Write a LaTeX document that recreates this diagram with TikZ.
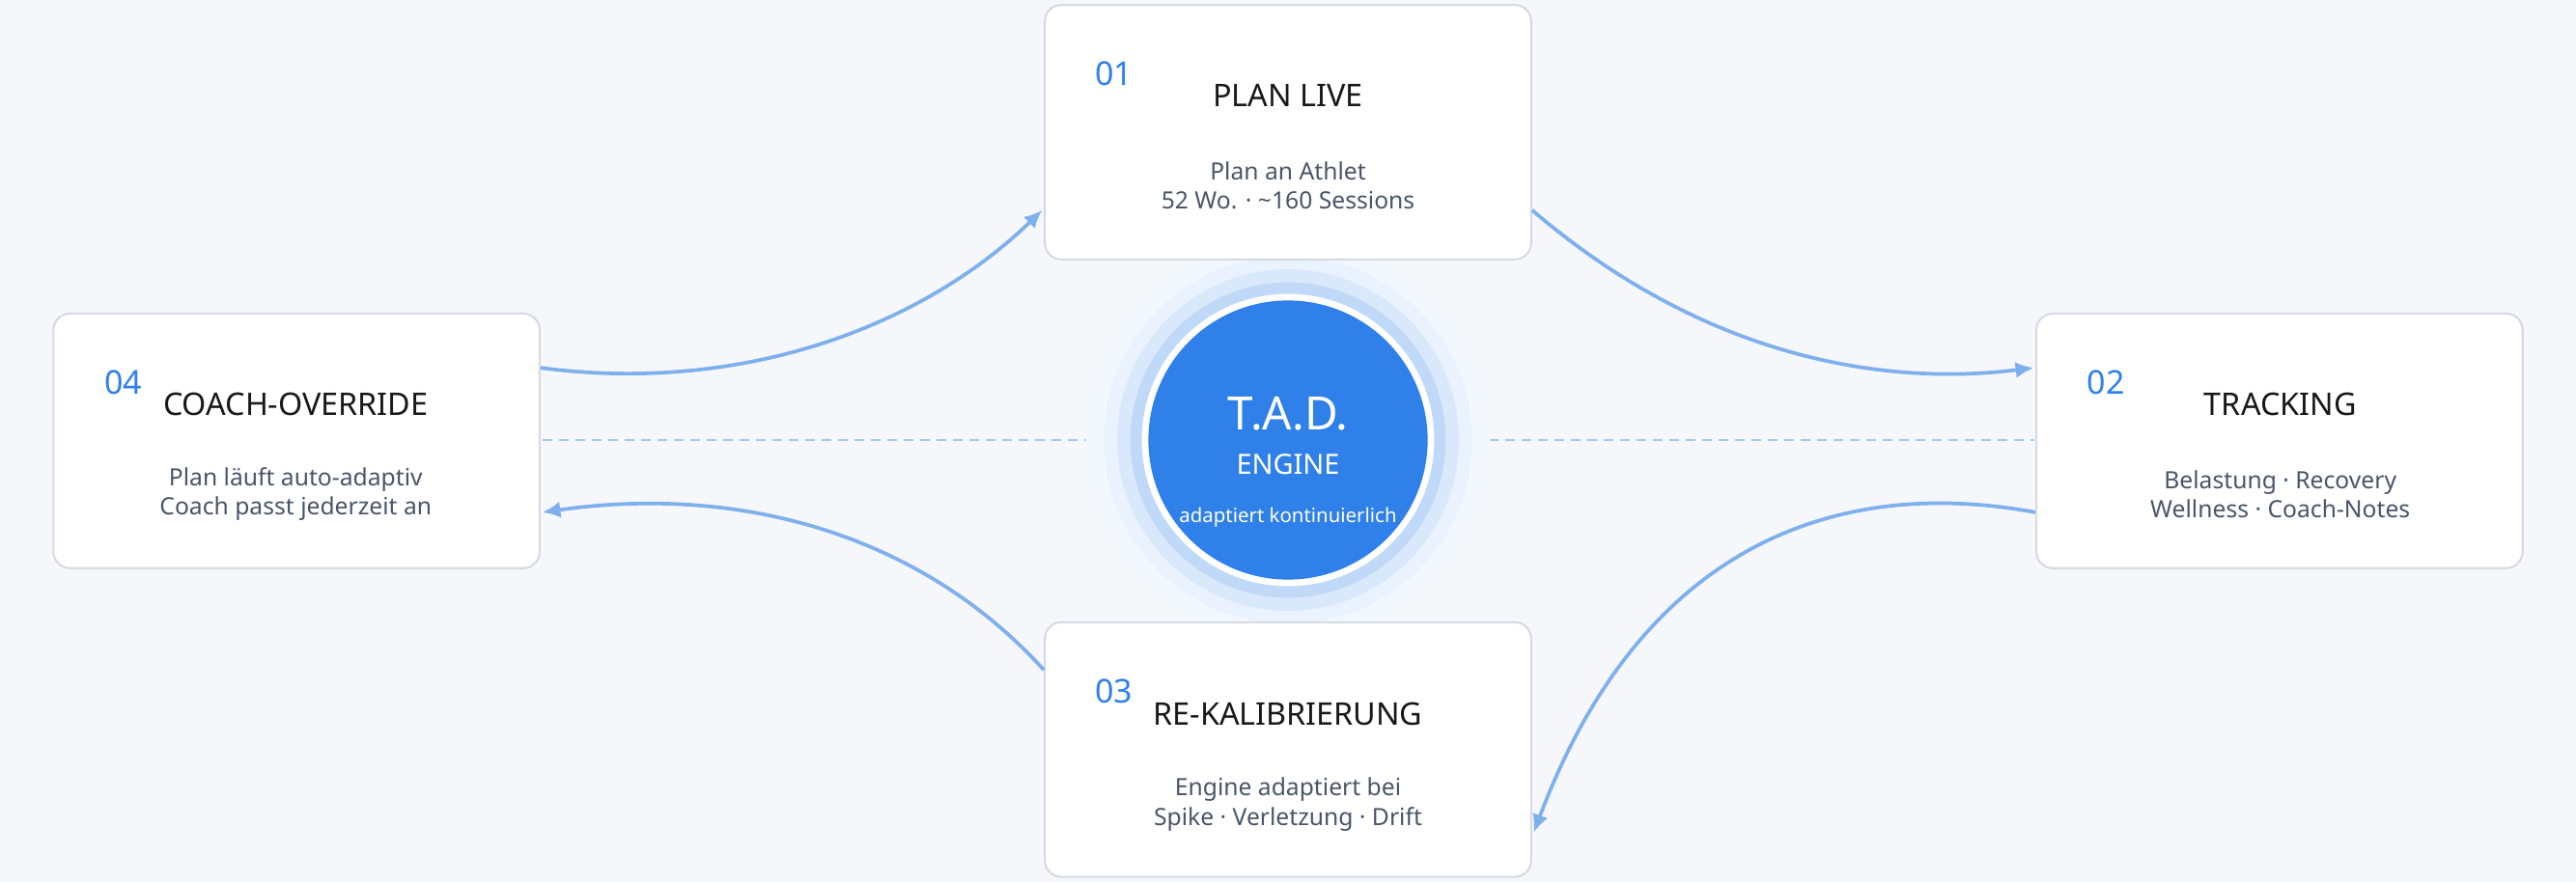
\documentclass[tikz,border=0pt]{standalone}
\usepackage{fontspec}
\setmainfont{Noto Sans}
\usetikzlibrary{calc,arrows.meta}
\definecolor{bg}{HTML}{F5F7FA}
\definecolor{boxline}{HTML}{D5DAE3}
\definecolor{numblue}{HTML}{2F80ED}
\definecolor{arr}{HTML}{7FB0EE}
\definecolor{body}{HTML}{4A5568}
\definecolor{core}{HTML}{2F80E8}
\tikzset{
  card/.style={draw=boxline,line width=1.2pt,fill=white,rounded corners=10pt,minimum width=296pt,minimum height=155pt,inner sep=0pt},
  num/.style={text=numblue,font=\fontsize{20}{24}\selectfont,anchor=west},
  ttl/.style={text=black!90,font=\fontsize{19}{23}\selectfont},
  bdy/.style={text=body,font=\fontsize{14.5}{18}\selectfont,align=center},
  flow/.style={draw=arr,line width=2.2pt,-{Latex[length=11pt,width=10pt]}},
  guide/.style={draw=arr!70,line width=1pt,dash pattern=on 6pt off 4pt}
}
\begin{document}
\begin{tikzpicture}[x=1pt,y=-1pt]
\fill[bg] (0,0) rectangle (1568,537);
\useasboundingbox (0,0) rectangle (1568,537);
\draw[guide] (330,268) -- (662,268);
\draw[guide] (906,268) -- (1238,268);
% halo
\fill[core!6] (784,268) circle (123);
\fill[core!10] (784,268) circle (112);
\fill[core!18] (784,268) circle (104);
\fill[core!30] (784,268) circle (96);
\fill[white] (784,268) circle (89);
\node[circle,fill=core,minimum size=170pt,inner sep=0pt] (eng) at (784,268) {};
\node[text=white,font=\fontsize{28}{32}\selectfont] (t1) at (784,252) {T.A.D.};
\node[text=white,font=\fontsize{17}{20}\selectfont] (t2) at (784,283) {ENGINE};
\node[text=white,font=\fontsize{12}{14}\selectfont] (t3) at (784,315) {adaptiert kontinuierlich};
% cards
\node[card] (top) at (784,80.5) {};
\node[card] (right) at (1387.5,268.5) {};
\node[card] (left) at (180.5,268.5) {};
\node[card] (bot) at (784,456.5) {};
\node[num] (n1) at (663,45) {01};
\node[ttl] (h1) at (784,58) {PLAN LIVE};
\node[bdy] (b1) at (784,113) {Plan an Athlet\\52 Wo. · \textasciitilde160 Sessions};
\node[num] (n2) at (1267,233) {02};
\node[ttl] (h2) at (1388,246) {TRACKING};
\node[bdy] (b2) at (1388,301) {Belastung · Recovery\\Wellness · Coach-Notes};
\node[num] (n4) at (60,233) {04};
\node[ttl] (h4) at (180,246) {COACH-OVERRIDE};
\node[bdy] (b4) at (180,301) {Plan läuft auto-adaptiv\\Coach passt jederzeit an};
\node[num] (n3) at (663,421) {03};
\node[ttl] (h3) at (784,435) {RE-KALIBRIERUNG};
\node[bdy] (b3) at (784,490) {Engine adaptiert bei\\Spike · Verletzung · Drift};
% arrows
\draw[flow] ([yshift=-47.5pt]top.east) .. controls (1040,220) and (1150,235) .. ([yshift=44.5pt,xshift=-1pt]right.west);
\draw[flow] ([yshift=-43.5pt]right.west) .. controls (1120,290) and (1000,330) .. ([yshift=-50.5pt,xshift=1pt]bot.east);
\draw[flow] ([yshift=48.5pt]bot.west) .. controls (560,325) and (450,295) .. ([yshift=-43.5pt,xshift=1pt]left.east);
\draw[flow] ([yshift=44.5pt]left.east) .. controls (450,240) and (560,200) .. ([yshift=-47.5pt,xshift=-1pt]top.west);
\end{tikzpicture}
\end{document}
